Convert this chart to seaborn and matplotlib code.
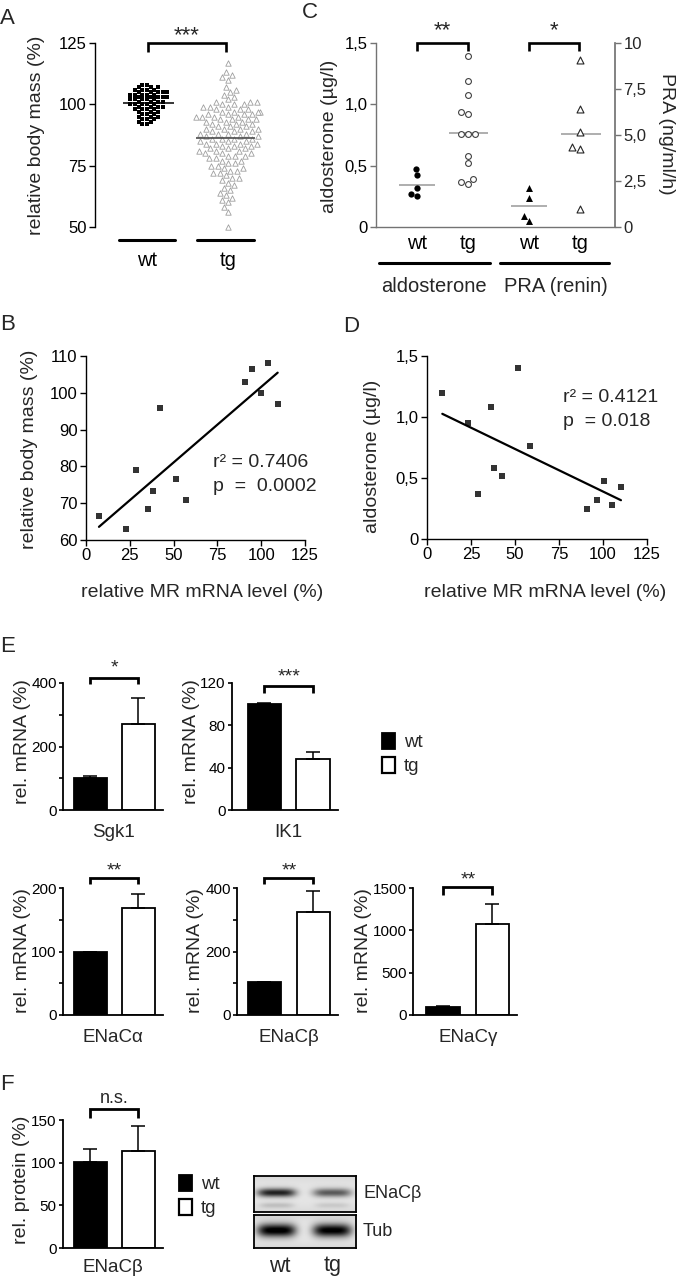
import numpy as np
import pandas as pd
import matplotlib
matplotlib.use("Agg")
import matplotlib.pyplot as plt
import matplotlib.transforms as mtransforms
import seaborn as sns
from matplotlib.patches import Patch

# ---------------- data ----------------
# Panel A: relative body mass (%)
wt_mass = [108, 108, 107, 107, 107, 106, 106, 106, 106, 105,
           105, 105, 105, 105, 104, 104, 104, 104, 104, 103,
           103, 103, 103, 103, 102, 102, 102, 102, 102, 101,
           101, 101, 101, 100, 100, 100, 100, 100, 99, 99,
           99, 99, 98, 98, 98, 98, 97, 97, 97, 96,
           96, 96, 95, 95, 95, 94, 94, 94, 93, 93,
           92, 92]
tg_mass = [117, 50, 113, 112, 111, 110, 107, 106, 105, 104,
           103, 102, 101, 101, 100, 100, 100, 99, 99, 99,
           98, 98, 98, 97, 97, 97, 96, 96, 96, 96,
           95, 95, 95, 95, 94, 94, 94, 93, 93, 93,
           92, 92, 92, 91, 91, 91, 90, 90, 90, 89,
           89, 89, 88, 88, 88, 87, 87, 87, 86, 86,
           86, 85, 85, 85, 84, 84, 84, 83, 83, 83,
           82, 82, 82, 81, 81, 80, 80, 80, 79, 79,
           79, 78, 78, 77, 77, 76, 76, 75, 75, 74,
           74, 73, 73, 72, 72, 71, 70, 70, 69, 68,
           67, 66, 65, 64, 63, 62, 61, 60, 58, 56,
           101, 97, 94, 90, 88, 86, 84, 81]
groups_a = ["wt", "tg"]

# Panel C: aldosterone (ug/l) and PRA (ng/ml/h)
aldo_wt = [0.47, 0.42, 0.32, 0.25, 0.27]
aldo_tg = [1.39, 1.19, 1.08, 0.94, 0.92, 0.76, 0.76, 0.76, 0.58, 0.52, 0.39, 0.37, 0.35]
pra_wt = [2.1, 1.6, 0.6, 0.35]
pra_tg = [9.1, 6.4, 5.15, 4.35, 4.25, 1.0]
c_tick_labels = ["wt", "tg", "wt", "tg"]
c_group_labels = ["aldosterone", "PRA (renin)"]

# Panel B: MR mRNA vs body mass
mr_b = [7.4, 22.6, 28.5, 35.6, 38.1, 42.2, 51.4, 57.1, 90.8, 95.0, 99.9, 104.1, 109.4]
mass_b = [66.6, 63.0, 79.0, 68.4, 73.3, 96.0, 76.5, 70.9, 103.0, 106.5, 100.0, 108.0, 97.0]

# Panel D: MR mRNA vs aldosterone
mr_d = [8.7, 23.4, 29.1, 36.1, 38.2, 42.4, 51.5, 58.5, 90.8, 96.5, 100.7, 105.3, 110.2]
aldo_d = [1.20, 0.95, 0.37, 1.085, 0.58, 0.52, 1.40, 0.76, 0.245, 0.32, 0.477, 0.275, 0.425]

# Panel E / F: bars (mean, SEM)
genotypes = ["wt", "tg"]
sgk1_mean, sgk1_sem = [100, 272], [6, 82]
ik1_mean, ik1_sem = [100, 48.5], [1.2, 6]
enaca_mean, enaca_sem = [99, 169], [1, 22]
enacb_mean, enacb_sem = [103, 325], [1.5, 67]
enacg_mean, enacg_sem = [100, 1072], [5, 235]
prot_mean, prot_sem = [100.5, 113.5], [15, 29]

# Western blot band intensities (wt, tg)
enacb_band = [0.78, 0.55]
enacb_lower_band = [0.14, 0.10]
tub_band = [0.95, 0.93]

# ---------------- style ----------------
sns.set_theme(style="ticks")
plt.rcParams["font.family"] = ["Liberation Sans", "DejaVu Sans"]

W, H = 678, 1280
fig = plt.figure(figsize=(W / 100, H / 100), dpi=100)
fig.patch.set_facecolor("white")

LAB = 14      # axis labels A-D
TICK = 12     # tick labels A-D


def add_ax(l, t, r, b):
    return fig.add_axes([l / W, 1 - b / H, (r - l) / W, (b - t) / H])


def style_ax(ax, color="black", fs=TICK, length=4, pad=2):
    for s in ["top", "right"]:
        ax.spines[s].set_visible(False)
    for s in ["left", "bottom"]:
        ax.spines[s].set_color(color)
        ax.spines[s].set_linewidth(1.0)
    ax.tick_params(which="both", direction="out", length=length, width=1.0, color=color,
                   labelcolor="black", labelsize=fs, pad=pad)
    ax.set_facecolor("white")


def bracket(ax, x0, x1, ytop, ybot, label, ytext, fs=16, lw=1.9):
    ax.plot([x0, x0, x1, x1], [ybot, ytop, ytop, ybot], color="black", lw=lw,
            clip_on=False, solid_joinstyle="miter", solid_capstyle="butt")
    ax.text((x0 + x1) / 2, ytext, label, ha="center", va="center", fontsize=fs, clip_on=False)


# ---------------- Panel A ----------------
axA = add_ax(95, 43, 262, 227)
sns.swarmplot(x=["wt"] * len(wt_mass), y=wt_mass, order=groups_a, marker="s", color="black",
              size=3.1, ax=axA)
sns.swarmplot(x=["tg"] * len(tg_mass), y=tg_mass, order=groups_a, marker="^", color="white",
              edgecolor="0.62", linewidth=0.6, size=3.9, ax=axA)
axA.hlines(np.mean(wt_mass), -0.3, 0.33, color="black", lw=1.1, zorder=5)
axA.hlines(np.mean(tg_mass), 1 - 0.4, 1 + 0.33, color="0.3", lw=1.2, zorder=5)
style_ax(axA)
axA.spines["bottom"].set_visible(False)
axA.set_ylim(50, 125)
axA.set_yticks([50, 75, 100, 125])
axA.set_xlim(-0.64, 1.42)
axA.set_xticks([0, 1], groups_a)
axA.tick_params(axis="x", length=0, labelsize=14.5, pad=17)
for c in axA.collections:
    c.set_clip_on(False)
trA = mtransforms.blended_transform_factory(axA.transData, axA.transAxes)
axA.plot([-0.35, 0.35], [-0.07, -0.07], color="black", lw=2.2, transform=trA, clip_on=False)
axA.plot([0.62, 1.32], [-0.07, -0.07], color="black", lw=2.2, transform=trA, clip_on=False)
axA.set_ylabel("relative body mass (%)", fontsize=LAB, va="center")
axA.yaxis.set_label_coords(-0.35, 0.5)
axA.set_xlabel("")
bracket(axA, 0.01, 0.975, 125, 121.3, "***", 128.0)

# ---------------- Panel C ----------------
axC = add_ax(376, 43, 615, 227)
axC2 = axC.twinx()
pos = [0.0, 1.0, 2.2, 3.2]
sns.swarmplot(x=[pos[0]] * len(aldo_wt), y=aldo_wt, native_scale=True, orient="x", marker="o",
              color="black", size=4.5, ax=axC)
sns.swarmplot(x=[pos[1]] * len(aldo_tg), y=aldo_tg, native_scale=True, orient="x", marker="o",
              color="white", edgecolor="0.25", linewidth=0.8, size=4.2, ax=axC)
sns.swarmplot(x=[pos[2]] * len(pra_wt), y=pra_wt, native_scale=True, orient="x", marker="^",
              color="black", size=5, ax=axC2)
sns.swarmplot(x=[pos[3]] * len(pra_tg), y=pra_tg, native_scale=True, orient="x", marker="^",
              color="white", edgecolor="0.15", linewidth=0.8, size=5, ax=axC2)
axC.hlines(np.mean(aldo_wt), pos[0] - 0.35, pos[0] + 0.35, color="0.6", lw=1.1, zorder=1)
axC.hlines(np.mean(aldo_tg), pos[1] - 0.38, pos[1] + 0.4, color="0.6", lw=1.1, zorder=1)
axC2.hlines(np.mean(pra_wt), pos[2] - 0.35, pos[2] + 0.35, color="0.6", lw=1.1, zorder=1)
axC2.hlines(np.mean(pra_tg), pos[3] - 0.38, pos[3] + 0.4, color="0.6", lw=1.1, zorder=1)
style_ax(axC, color="0.45")
axC.set_ylim(0, 1.5)
axC.set_yticks([0, 0.5, 1.0, 1.5], ["0", "0,5", "1,0", "1,5"])
axC2.set_ylim(0, 10)
axC2.set_yticks([0, 2.5, 5, 7.5, 10], ["0", "2,5", "5,0", "7,5", "10"])
for s in ["top", "left", "bottom"]:
    axC2.spines[s].set_visible(False)
axC2.spines["right"].set_color("0.45")
axC2.tick_params(axis="y", direction="out", length=4, width=1.0, color="0.45", labelsize=TICK, pad=2)
axC.set_xlim(-0.8, 3.88)
axC.set_xticks(pos, c_tick_labels)
axC.tick_params(axis="x", length=0, labelsize=14.5, pad=5)
axC.set_xlabel("")
axC.set_ylabel("aldosterone (µg/l)", fontsize=LAB, va="center")
axC.yaxis.set_label_coords(-0.195, 0.49)
axC2.set_ylabel("PRA (ng/ml/h)", fontsize=LAB, rotation=270, va="center")
axC2.yaxis.set_label_coords(1.215, 0.505)
trC = mtransforms.blended_transform_factory(axC.transData, axC.transAxes)
axC.plot([-0.75, 1.43], [-0.196, -0.196], color="black", lw=2.2, transform=trC, clip_on=False)
axC.plot([1.63, 3.76], [-0.196, -0.196], color="black", lw=2.2, transform=trC, clip_on=False)
axC.text(0.34, -0.322, c_group_labels[0], transform=trC, ha="center", va="center", fontsize=14.5)
axC.text(2.72, -0.322, c_group_labels[1], transform=trC, ha="center", va="center", fontsize=14.5)
bracket(axC, pos[0], pos[1], 1.5, 1.435, "**", 1.6)
bracket(axC, pos[2], pos[3] - 0.02, 1.5, 1.435, "*", 1.6)
for c in axC.collections + axC2.collections:
    c.set_clip_on(False)

# ---------------- Panel B ----------------
axB = add_ax(86, 356, 305, 540)
sns.regplot(x=mr_b, y=mass_b, ci=None, marker="s", color="black",
            scatter_kws={"s": 18, "linewidths": 0}, line_kws={"lw": 1.6}, ax=axB)
style_ax(axB)
axB.set_xlim(0, 125)
axB.set_ylim(60, 110)
axB.set_xticks([0, 25, 50, 75, 100, 125])
axB.set_yticks([60, 70, 80, 90, 100, 110])
axB.set_ylabel("relative body mass (%)", fontsize=LAB, va="center")
axB.yaxis.set_label_coords(-0.256, 0.495)
axB.set_xlabel("relative MR mRNA level (%)", fontsize=LAB, va="center")
axB.xaxis.set_label_coords(0.53, -0.288)
axB.text(72.5, 81, "r² = 0.7406", fontsize=LAB, va="center")
axB.text(72.5, 74.6, "p  =  0.0002", fontsize=LAB, va="center")
for c in axB.collections:
    c.set_clip_on(False)

# ---------------- Panel D ----------------
axD = add_ax(427, 356, 647, 539)
sns.regplot(x=mr_d, y=aldo_d, ci=None, marker="s", color="black",
            scatter_kws={"s": 22, "linewidths": 0}, line_kws={"lw": 1.6}, ax=axD)
style_ax(axD)
axD.set_xlim(0, 125)
axD.set_ylim(0, 1.5)
axD.set_xticks([0, 25, 50, 75, 100, 125])
axD.set_yticks([0, 0.5, 1.0, 1.5], ["0", "0,5", "1,0", "1,5"])
axD.set_ylabel("aldosterone (µg/l)", fontsize=LAB, va="center")
axD.yaxis.set_label_coords(-0.25, 0.454)
axD.set_xlabel("relative MR mRNA level (%)", fontsize=LAB, va="center")
axD.xaxis.set_label_coords(0.536, -0.295)
axD.text(77.3, 1.156, "r² = 0.4121", fontsize=LAB, va="center")
axD.text(77.3, 0.96, "p  = 0.018", fontsize=LAB, va="center")
for c in axD.collections:
    c.set_clip_on(False)


# ---------------- Panels E / F ----------------
def bar_panel(box, means, sems, ylim, major, minor, name, ylab, xlim, ylab_x, name_xy, brk):
    ax = add_ax(*box)
    df = pd.DataFrame({"genotype": genotypes, "value": means})
    sns.barplot(data=df, x="genotype", y="value", hue="genotype", order=genotypes,
                palette={"wt": "black", "tg": "white"}, edgecolor="black", linewidth=1.3,
                width=0.69, legend=False, errorbar=None, ax=ax)
    ax.errorbar([0, 1], means, yerr=[[0, 0], sems], fmt="none", ecolor="black",
                elinewidth=1.1, capsize=5.2, capthick=1.1, zorder=3)
    style_ax(ax, fs=11, length=3, pad=1.5)
    ax.spines["bottom"].set_linewidth(1.3)
    ax.spines["left"].set_linewidth(1.3)
    ax.set_ylim(*ylim)
    ax.set_yticks(major)
    ax.set_yticks(minor, minor=True)
    ax.tick_params(axis="y", which="both", length=3, width=1.2)
    ax.set_xlim(*xlim)
    ax.set_xticks([])
    ax.set_ylabel(ylab, fontsize=14, va="center")
    ax.yaxis.set_label_coords(ylab_x, name_xy[2])
    ax.set_xlabel(name, fontsize=13.5, va="center")
    ax.xaxis.set_label_coords(name_xy[0], name_xy[1])
    x0, x1, ytop, ybot, lab, yt = brk
    bracket(ax, x0, x1, ytop, ybot, lab, yt, fs=14 if lab != "n.s." else 13, lw=2.0)
    return ax


def xfrac(px, l, r):
    return (px - l) / (r - l)


axE1 = bar_panel((63, 683, 163, 810), sgk1_mean, sgk1_sem, (0, 400), [0, 200, 400], [100, 300],
                 "Sgk1", "rel. mRNA (%)", (-0.57, 1.51), xfrac(22, 63, 163), (0.5, -0.175, 0.535),
                 (0, 1, 416, 396, "*", 446))
axE2 = bar_panel((232, 683, 338, 810), ik1_mean, ik1_sem, (0, 120), [0, 40, 80, 120], [],
                 "IK1", "rel. mRNA (%)", (-0.67, 1.52), xfrac(192, 232, 338), (0.53, -0.175, 0.535),
                 (0, 1, 117.2, 110.8, "***", 125.5))
axE3 = bar_panel((63, 888, 163, 1015), enaca_mean, enaca_sem, (0, 200), [0, 100, 200], [50, 150],
                 "ENaCα", "rel. mRNA (%)", (-0.57, 1.51), xfrac(22, 63, 163), (0.5, -0.175, 0.51),
                 (0, 1, 215.7, 206, "**", 227))
axE4 = bar_panel((237, 888, 338, 1015), enacb_mean, enacb_sem, (0, 400), [0, 200, 400], [100, 300],
                 "ENaCβ", "rel. mRNA (%)", (-0.56, 1.5), xfrac(196, 237, 338), (0.515, -0.175, 0.51),
                 (0, 1, 431.5, 412, "**", 454))
axE5 = bar_panel((413, 888, 517, 1015), enacg_mean, enacg_sem, (0, 1500), [0, 500, 1000, 1500], [],
                 "ENaCγ", "rel. mRNA (%)", (-0.62, 1.5), xfrac(364, 413, 517), (0.53, -0.175, 0.51),
                 (0, 1, 1512, 1420, "**", 1600))
axF = bar_panel((63, 1120, 163, 1248), prot_mean, prot_sem, (0, 150), [0, 50, 100, 150], [],
                "ENaCβ", "rel. protein (%)", (-0.57, 1.51), xfrac(21, 63, 163), (0.5, -0.15, 0.53),
                (0, 1, 162.5, 152, "n.s.", 175))

# legends
leg_handles = [Patch(facecolor="black", edgecolor="black", lw=1.3),
               Patch(facecolor="white", edgecolor="black", lw=1.6)]
for (lx, ly) in [(382, 754), (179, 1196)]:
    fig.legend(leg_handles, genotypes, loc="center left", bbox_to_anchor=(lx / W, 1 - ly / H),
               frameon=False, handlelength=0.7, handleheight=0.95, handletextpad=0.45,
               labelspacing=0.3, prop={"size": 13.5}, borderaxespad=0, borderpad=0)


# ---------------- Western blot ----------------
def blot(box, bands, band_h, lower=None):
    ax = add_ax(*box)
    h = box[3] - box[1]
    w = box[2] - box[0]
    yy, xx = np.mgrid[0:h, 0:w]
    img = np.full((h, w), 0.9) - 0.06 * (np.abs(yy - h / 2) / (h / 2)) ** 3
    lane_x = [22, 77]
    for i, inten in enumerate(bands):
        img -= inten * np.exp(-((xx - lane_x[i]) / 19.0) ** 4) * np.exp(-((yy - h * 0.45) / (h * band_h)) ** 2)
    if lower is not None:
        for i, inten in enumerate(lower):
            img -= inten * np.exp(-((xx - lane_x[i]) / 17.0) ** 4) * np.exp(-((yy - h * 0.8) / (h * 0.08)) ** 2)
    ax.imshow(np.clip(img, 0, 1), cmap="gray", vmin=0, vmax=1, aspect="auto", interpolation="bilinear")
    ax.set_xticks([])
    ax.set_yticks([])
    for s in ax.spines.values():
        s.set_visible(True)
        s.set_color("black")
        s.set_linewidth(1.3)
    return ax


blot((254, 1176, 356, 1212), enacb_band, 0.12, enacb_lower_band)
blot((254, 1215, 356, 1248), tub_band, 0.2)
fig.text(363 / W, 1 - 1193 / H, "ENaCβ", ha="left", va="center", fontsize=13)
fig.text(363 / W, 1 - 1232 / H, "Tub", ha="left", va="center", fontsize=13)
fig.text(280 / W, 1 - 1266 / H, "wt", ha="center", va="center", fontsize=15.5)
fig.text(333 / W, 1 - 1266 / H, "tg", ha="center", va="center", fontsize=15.5)

# ---------------- panel letters ----------------
for letter, x, y in [("A", 0, 19), ("C", 302, 12), ("B", 0, 325), ("D", 343, 327),
                     ("E", 0, 647), ("F", 0, 1085)]:
    fig.text(x / W, 1 - y / H, letter, ha="left", va="center", fontsize=16)

fig.savefig("out.png", dpi=100, facecolor="white")
